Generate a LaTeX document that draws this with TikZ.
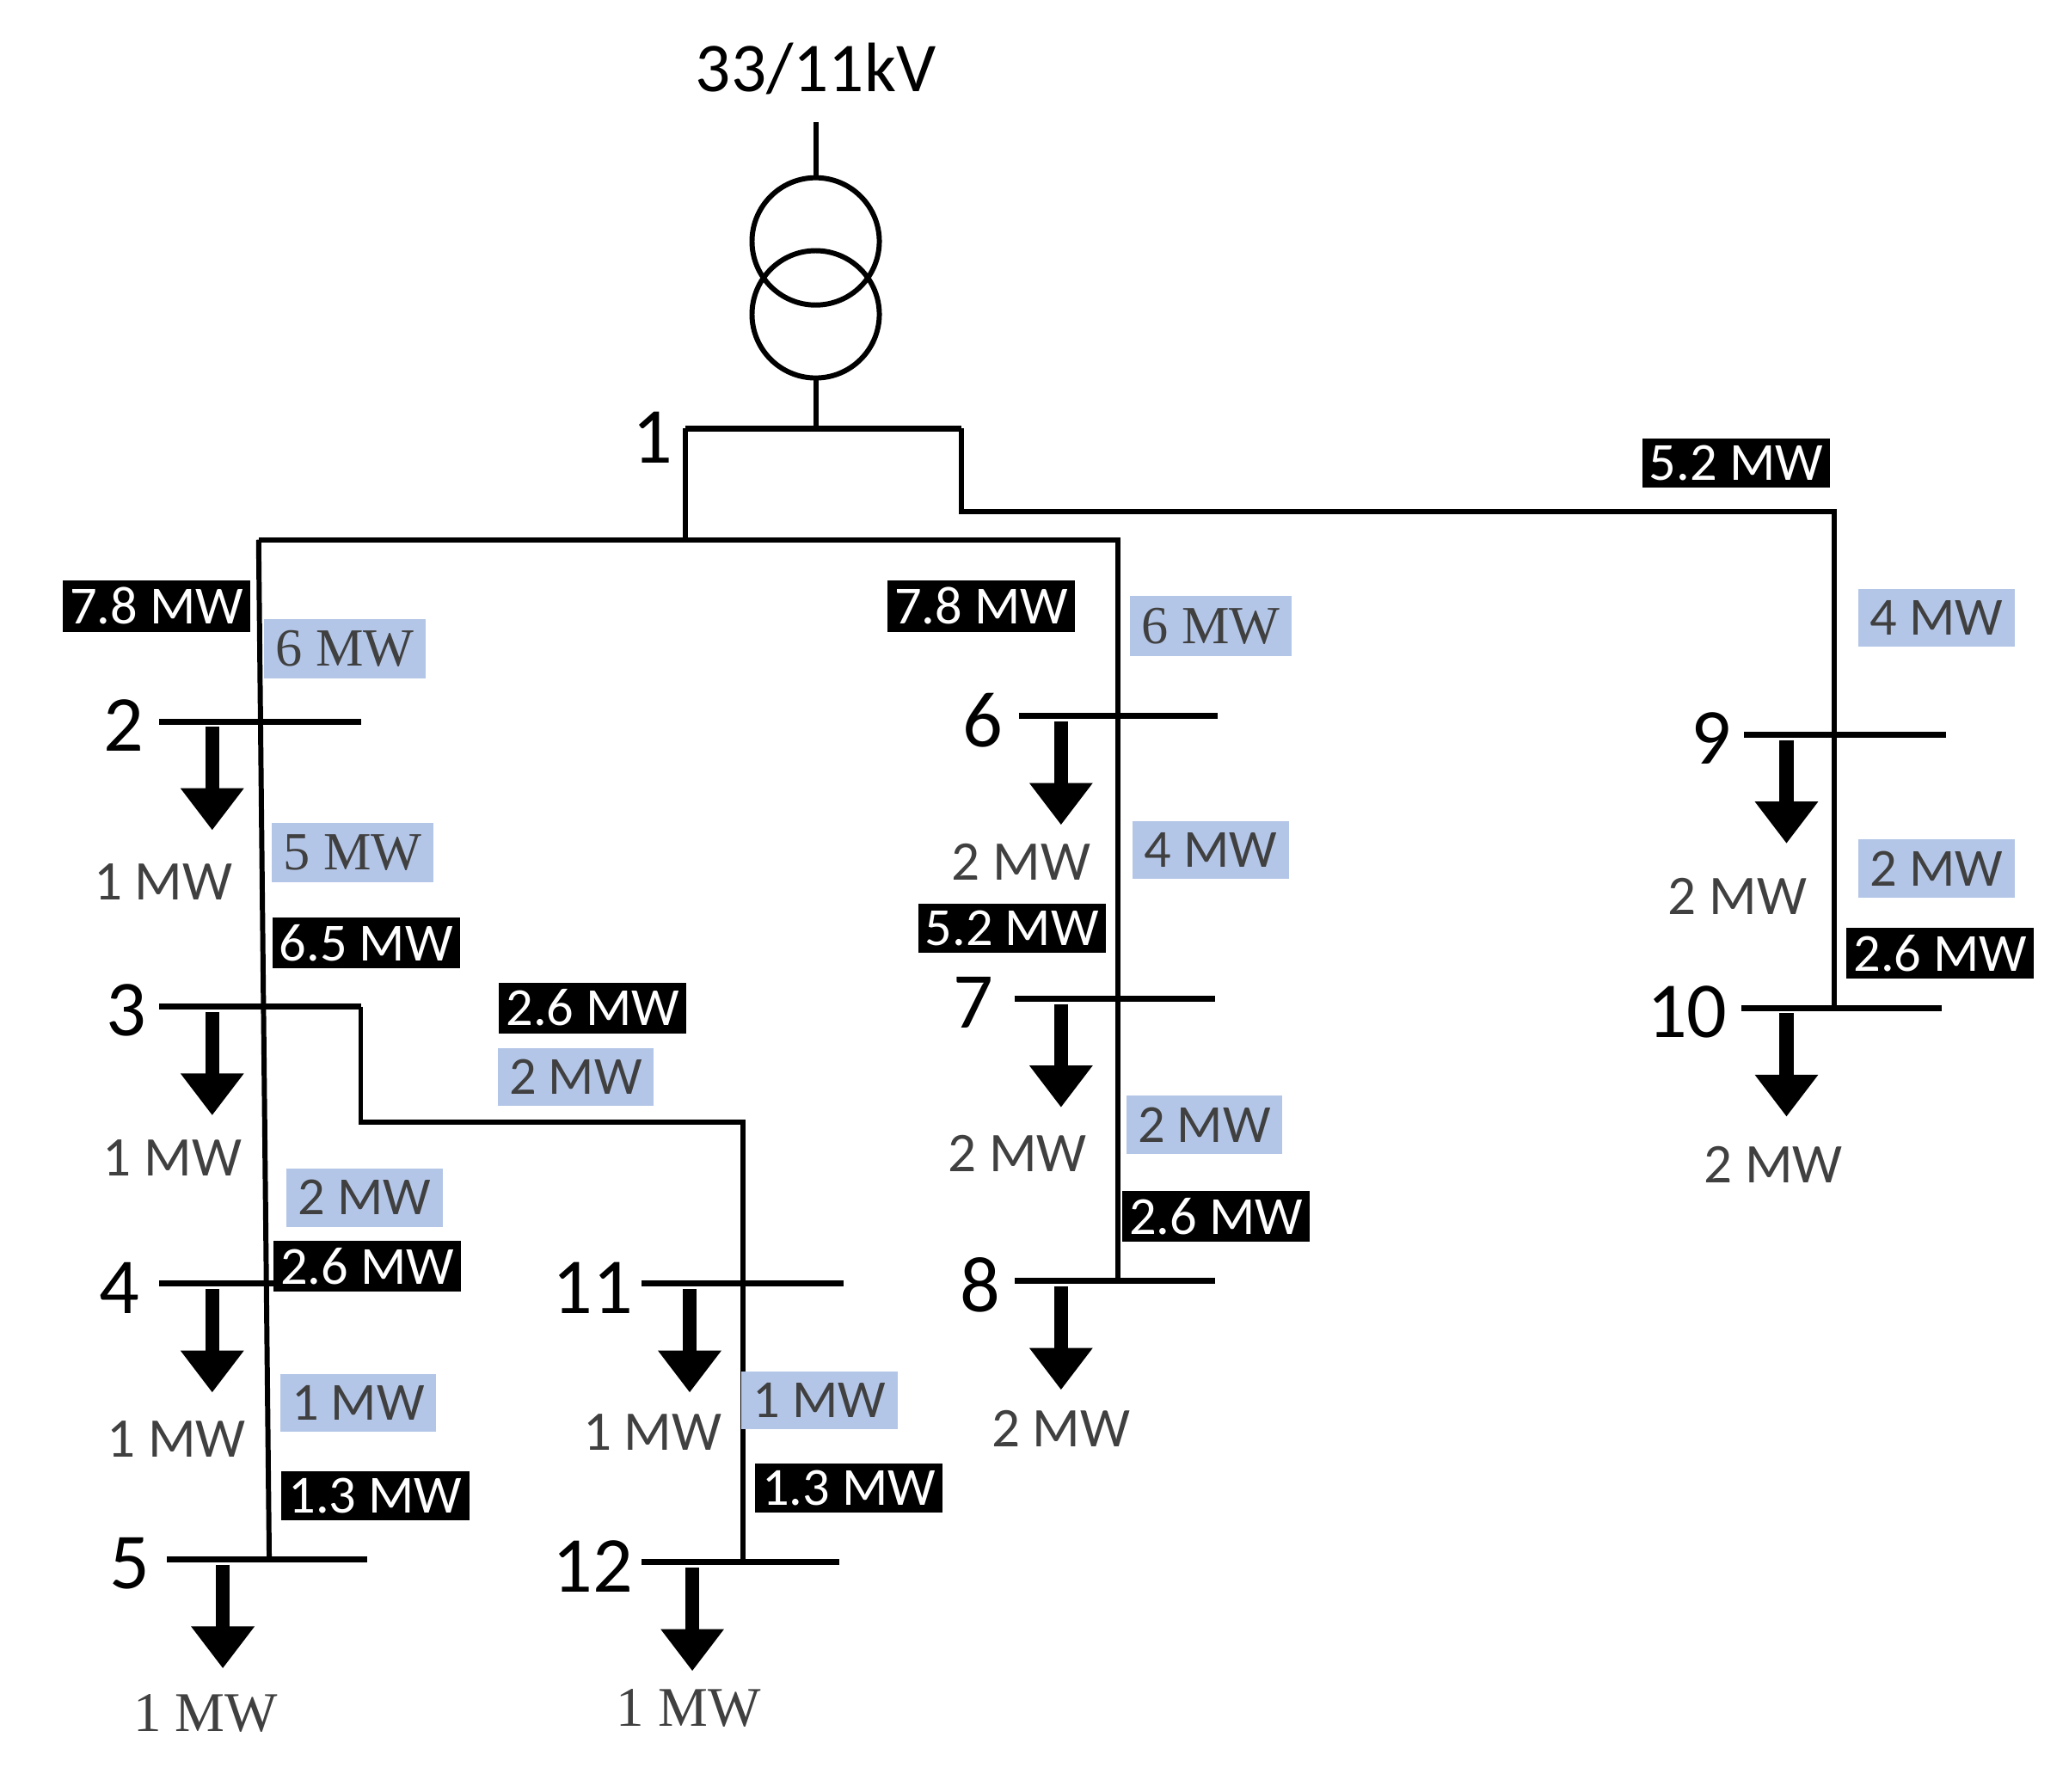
\documentclass[tikz,border=0pt]{standalone}
\usepackage{fontspec}
\setmainfont{Carlito}
\newfontfamily\serifmw{Liberation Serif}
\usetikzlibrary{arrows.meta}
\definecolor{flowblue}{RGB}{180,198,231}
\definecolor{flowtext}{RGB}{64,64,64}
\tikzset{
  feeder/.style={line width=1.1pt},
  bus/.style={line width=1.3pt},
  load/.style={line width=3pt,-{Triangle[length=9pt,width=13pt]}},
  num/.style={font=\fontsize{17}{17}\selectfont},
  mw/.style={font=\fontsize{12}{12}\selectfont,text=flowtext},
  blk/.style={fill=black,text=white,inner sep=1.5pt,font=\fontsize{11.5}{11.5}\selectfont},
  blu/.style={fill=flowblue,text=flowtext,inner sep=2.5pt,font=\fontsize{11.5}{11.5}\selectfont}
}
\begin{document}
\begin{tikzpicture}[x=0.01cm,y=-0.01cm]
    \useasboundingbox (0,0) rectangle (1560,1351);

    % Transformer
    \node[num,font=\fontsize{15}{15}\selectfont] (title) at (615,52) {33/11kV};
    \coordinate (t0) at (615,92);
    \coordinate (t1) at (615,134);
    \coordinate (t2) at (615,285);
    \coordinate (t3) at (615,323);
    \draw[feeder] (t0) -- (t1);
    \draw[feeder] (615,182) circle (48);
    \draw[feeder] (615,237) circle (48);
    \draw[feeder] (t2) -- (t3);

    % Bus 1 and main feeders
    \coordinate (b1l) at (517,323);
    \coordinate (b1r) at (725,323);
    \coordinate (ja) at (517,407);
    \coordinate (jb) at (725,386);
    \coordinate (jc) at (1383,386);
    \coordinate (fl) at (195,407);
    \coordinate (fr) at (843,407);
    \coordinate (f5) at (203,1176);
    \coordinate (f8) at (843,966);
    \coordinate (f10) at (1383,760);
    \coordinate (k1) at (272,759);
    \coordinate (k2) at (272,846);
    \coordinate (k3) at (560,846);
    \coordinate (f12) at (560,1178);
    \draw[bus] (b1l) -- (b1r);
    \node[num] (n1) at (492,330) {1};
    \draw[feeder] (b1l) -- (ja);
    \draw[feeder] (b1r) -- (jb) -- (jc) -- (f10);
    \draw[feeder] (fl) -- (fr) -- (f8);
    \draw[feeder] (fl) -- (f5);
    \draw[feeder] (k1) -- (k2) -- (k3) -- (f12);

    % Buses with loads: name/x-left/x-right/y/arrow x/label x/load text x/load y
    \foreach \n/\xa/\xb/\y/\xr/\xl/\xt/\yt/\ld in {
        2/120/272/544/160/93/123/665/1 MW,
        3/120/272/759/160/95/130/873/1 MW,
        4/120/272/968/160/90/133/1085/1 MW,
        11/484/636/968/520/447/492/1080/1 MW,
        6/768/918/540/800/741/770/650/2 MW,
        7/765/916/753/800/734/767/870/2 MW,
        8/765/916/966/800/739/800/1077/2 MW,
        9/1315/1467/554/1347/1290/1310/676/2 MW,
        10/1313/1464/760/1347/1272/1337/878/2 MW}{
      \coordinate (bus\n l) at (\xa,\y);
      \coordinate (bus\n r) at (\xb,\y);
      \coordinate (ld\n a) at (\xr,\y+4);
      \coordinate (ld\n b) at (\xr,\y+82);
      \draw[bus] (bus\n l) -- (bus\n r);
      \draw[load] (ld\n a) -- (ld\n b);
      \node[num] (n\n) at (\xl,\y+3) {\n};
      \node[mw] (p\n) at (\xt,\yt) {\ld};
    }
    \foreach \n/\xa/\xb/\y/\xr/\xl/\xt/\yt in {
        5/126/277/1176/168/98/155/1292,
        12/484/633/1178/522/447/519/1288}{
      \coordinate (bus\n l) at (\xa,\y);
      \coordinate (bus\n r) at (\xb,\y);
      \coordinate (ld\n a) at (\xr,\y+4);
      \coordinate (ld\n b) at (\xr,\y+82);
      \draw[bus] (bus\n l) -- (bus\n r);
      \draw[load] (ld\n a) -- (ld\n b);
      \node[num] (n\n) at (\xl,\y+3) {\n};
      \node[mw,font=\serifmw\fontsize{12}{12}\selectfont] (p\n) at (\xt,\yt) {1 MW};
    }

    % Line flows (black) and set points (blue)
    \node[blk] (s12) at (118,457) {7.8 MW};
    \node[blk] (s19) at (1309,349) {5.2 MW};
    \node[blk] (s16) at (740,457) {7.8 MW};
    \node[blk] (s23) at (276,711) {6.5 MW};
    \node[blk] (s311) at (447,760) {2.6 MW};
    \node[blk] (s67) at (763,700) {5.2 MW};
    \node[blk] (s910) at (1463,719) {2.6 MW};
    \node[blk] (s34) at (277,955) {2.6 MW};
    \node[blk] (s78) at (917,917) {2.6 MW};
    \node[blk] (s45) at (283,1128) {1.3 MW};
    \node[blk] (s1112) at (640,1122) {1.3 MW};

    \node[blu,font=\serifmw\fontsize{11.5}{11.5}\selectfont] (r12) at (260,489) {6 MW};
    \node[blu,font=\serifmw\fontsize{11.5}{11.5}\selectfont] (r16) at (913,472) {6 MW};
    \node[blu] (r19) at (1460,466) {4 MW};
    \node[blu,font=\serifmw\fontsize{11.5}{11.5}\selectfont] (r23) at (266,643) {5 MW};
    \node[blu] (r67) at (913,641) {4 MW};
    \node[blu] (r910) at (1460,655) {2 MW};
    \node[blu] (r311) at (434,812) {2 MW};
    \node[blu] (r78) at (908,848) {2 MW};
    \node[blu] (r34) at (275,903) {2 MW};
    \node[blu] (r45) at (270,1058) {1 MW};
    \node[blu] (r1112) at (618,1056) {1 MW};

\end{tikzpicture}
\end{document}
